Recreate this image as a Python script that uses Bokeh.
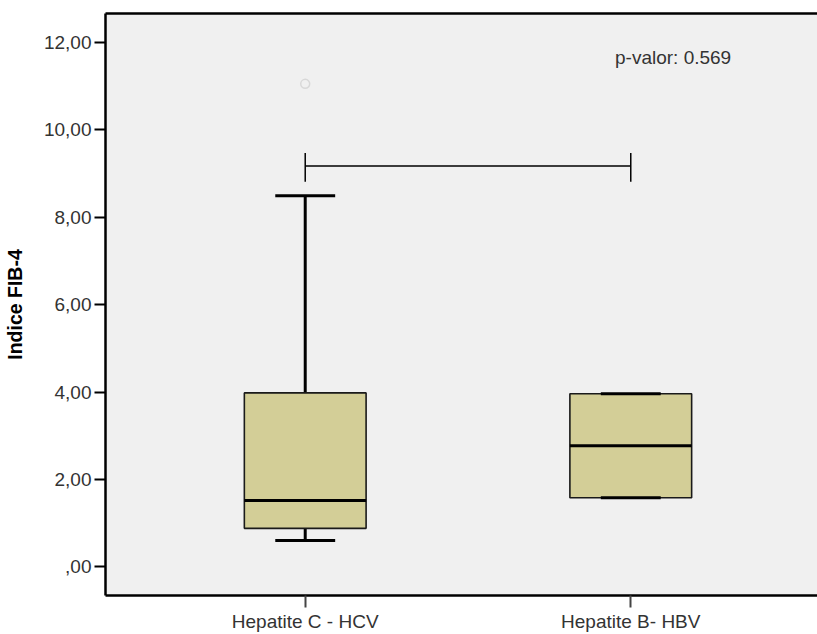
from bokeh.plotting import figure
from bokeh.models import FixedTicker, Label, Range1d, LinearAxis
from bokeh.embed import file_html
from bokeh.resources import INLINE

# ---- data ----
categories = ["Hepatite C - HCV", "Hepatite B- HBV"]
positions = [1, 2]
q1 = [0.88, 1.58]
medians = [1.52, 2.77]
q3 = [3.98, 3.96]
whisker_low = [0.60, 1.58]
whisker_high = [8.49, 3.96]
outlier_group = [1]
outlier_values = [11.05]
y_ticks = [0, 2, 4, 6, 8, 10, 12]
y_tick_labels = [",00", "2,00", "4,00", "6,00", "8,00", "10,00", "12,00"]
bracket_groups = [1, 2]
bracket_level = 9.17
bracket_tick_low = 8.81
bracket_tick_high = 9.47
p_text = "p-valor: 0.569"
p_x = 2.13
p_y = 11.66

FONT = "Liberation Sans"
FS = "19px"
BOX_W = 0.374
CAP_W = 0.184

p = figure(width=817, height=634, output_backend="svg", toolbar_location=None,
           x_range=Range1d(0.3865, 2.5736), y_range=Range1d(-0.656, 12.66),
           min_border_left=104, min_border_right=0, min_border_top=13, min_border_bottom=38)
p.background_fill_color = "#f0f0f0"
p.border_fill_color = "white"
p.outline_line_color = None
p.xgrid.visible = False
p.ygrid.visible = False

# axes
xa = p.below[0]
xa.ticker = FixedTicker(ticks=positions)
xa.major_label_overrides = {x: c for x, c in zip(positions, categories)}
xa.major_label_text_font = FONT
xa.major_label_text_font_size = FS
xa.major_label_text_color = "#333333"
xa.major_label_standoff = 3
xa.major_tick_out = 12
xa.major_tick_in = 0
xa.major_tick_line_width = 2
xa.major_tick_line_color = "#444444"
xa.minor_tick_line_color = None
xa.axis_line_width = 2.5
xa.axis_line_color = "black"

ya = p.left[0]
ya.ticker = FixedTicker(ticks=y_ticks)
ya.major_label_overrides = {t: s for t, s in zip(y_ticks, y_tick_labels)}
ya.major_label_text_font = FONT
ya.major_label_text_font_size = FS
ya.major_label_text_color = "#333333"
ya.major_label_standoff = 3
ya.major_tick_out = 11
ya.major_tick_in = 0
ya.major_tick_line_width = 2
ya.major_tick_line_color = "black"
ya.minor_tick_line_color = None
ya.axis_line_width = 2.5
ya.axis_line_color = "black"
ya.axis_label = "Indice FIB-4"
ya.axis_label_text_font = FONT
ya.axis_label_text_font_size = "19.5px"
ya.axis_label_text_font_style = "bold"
ya.axis_label_text_color = "black"
ya.axis_label_standoff = 15

# top frame line (axis with no ticks or labels)
top = LinearAxis(ticker=FixedTicker(ticks=[]), major_tick_out=0, major_tick_in=0,
                 major_label_standoff=0, minor_tick_line_color=None,
                 axis_line_width=2.5, axis_line_color="black")
p.add_layout(top, "above")

# whiskers
p.segment(x0=positions, x1=positions, y0=q3, y1=whisker_high, line_color="black", line_width=3)
p.segment(x0=positions, x1=positions, y0=q1, y1=whisker_low, line_color="black", line_width=3)
# boxes
p.vbar(x=positions, width=BOX_W, bottom=q1, top=q3, fill_color="#d3ce97",
       line_color="#1a1a1a", line_width=1.6)
# caps
p.segment(x0=[x - CAP_W / 2 for x in positions], x1=[x + CAP_W / 2 for x in positions],
          y0=whisker_high, y1=whisker_high, line_color="black", line_width=3)
p.segment(x0=[x - CAP_W / 2 for x in positions], x1=[x + CAP_W / 2 for x in positions],
          y0=whisker_low, y1=whisker_low, line_color="black", line_width=3)
# medians
p.segment(x0=[x - BOX_W / 2 for x in positions], x1=[x + BOX_W / 2 for x in positions],
          y0=medians, y1=medians, line_color="black", line_width=3)
# outliers
p.scatter(x=outlier_group, y=outlier_values, size=9, fill_color=None,
          line_color="#d8d8d8", line_width=1.5)

# significance bracket
p.segment(x0=[bracket_groups[0]], x1=[bracket_groups[1]], y0=[bracket_level], y1=[bracket_level],
          line_color="black", line_width=1.5)
p.segment(x0=bracket_groups, x1=bracket_groups, y0=[bracket_tick_low] * 2,
          y1=[bracket_tick_high] * 2, line_color="black", line_width=1.5)

p.add_layout(Label(x=p_x, y=p_y, text=p_text, text_align="center", text_baseline="middle",
                   text_font=FONT, text_font_size=FS, text_color="#333333"))

open("out.html", "w").write(file_html(p, INLINE))
